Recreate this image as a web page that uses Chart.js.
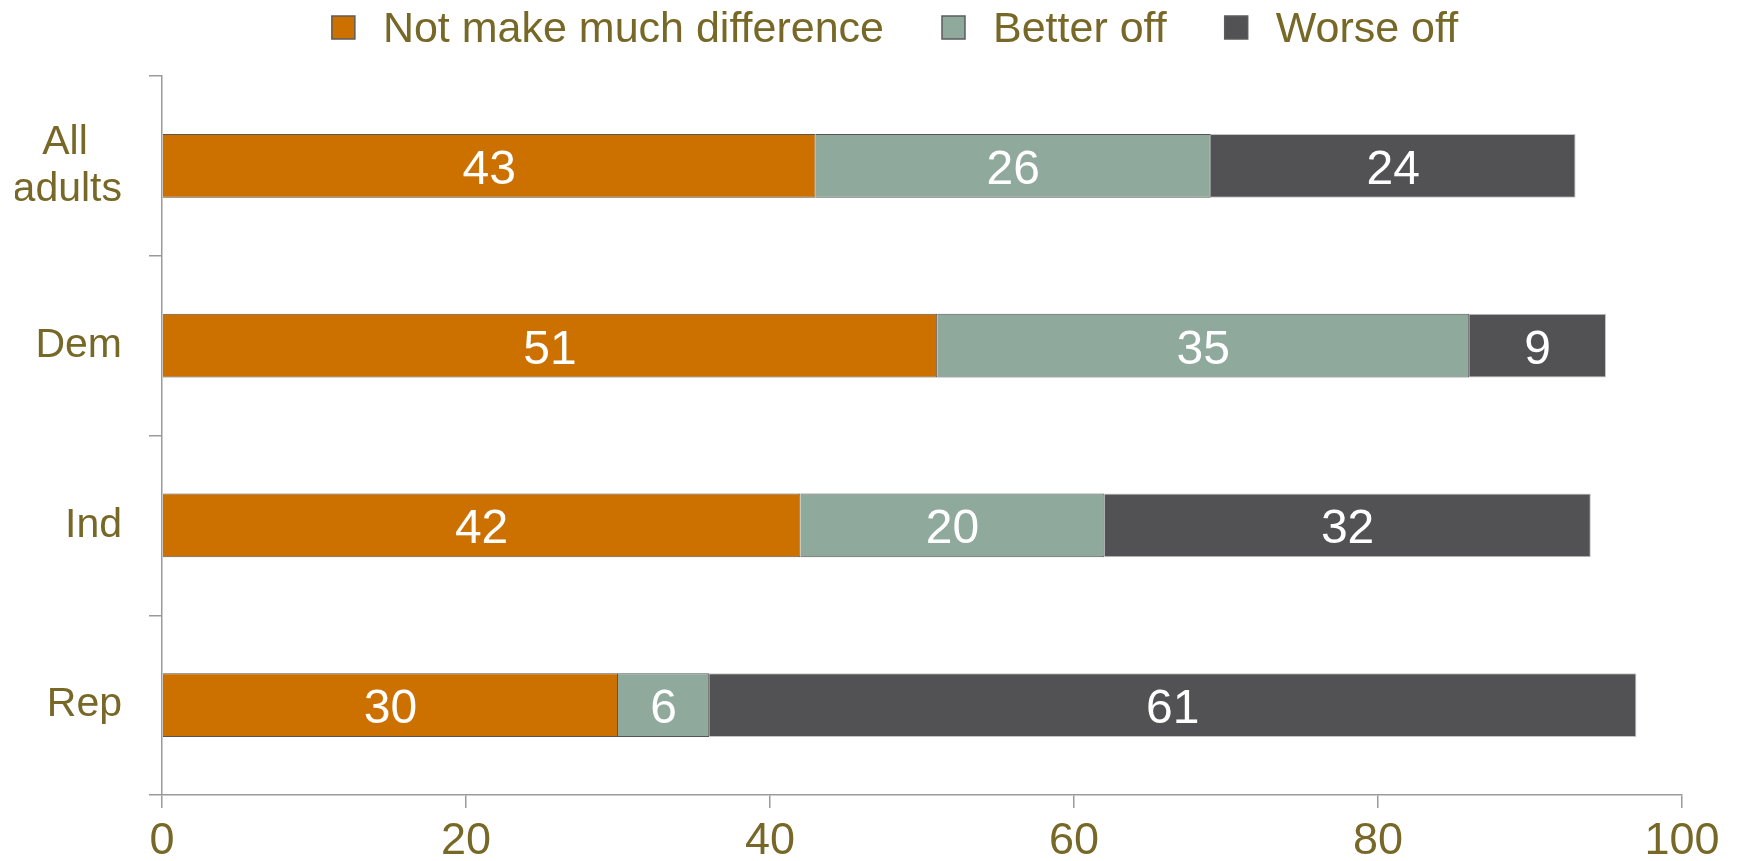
<html>
  <head>
    <meta charset="UTF-8">
    <title>Better off / Worse off</title>
    <script src="https://cdn.jsdelivr.net/npm/chart.js"></script>
    <style>
      html, body { margin: 0; padding: 0; background: #fff; }
      #wrap { width: 1738px; height: 861px; position: relative; }
    </style>
  </head>
  <body>
    <div id="wrap"><canvas id="chart"></canvas></div>
    <script>
    // Data
    const categories = [['All', 'adults'], 'Dem', 'Ind', 'Rep'];
    const seriesNames = ['Not make much difference', 'Better off', 'Worse off'];
    const notMuchDifference = [43, 51, 42, 30];
    const betterOff = [26, 35, 20, 6];
    const worseOff = [24, 9, 32, 61];
    const xTicks = [0, 20, 40, 60, 80, 100];

    const textColor = '#776828';
    const fontFamily = '"Liberation Sans", Arial, sans-serif';
    const axisColor = '#9a9a9a';
    const catFont = '41px ' + fontFamily;

    // pad the short line of a two-line label so the lines sit centred on each other
    const measureCtx = document.createElement('canvas').getContext('2d');
    function centreLines(label) {
      if (!Array.isArray(label)) return label;
      measureCtx.font = catFont;
      const widths = label.map(l => measureCtx.measureText(l).width);
      const widest = Math.max(...widths);
      const space = measureCtx.measureText(' ').width;
      return label.map((l, i) => l + ' '.repeat(Math.round((widest - widths[i]) / 2 / space)));
    }

    // values written in the middle of each segment
    const barValues = {
      id: 'barValues',
      afterDatasetsDraw(chart) {
        const ctx = chart.ctx;
        ctx.save();
        ctx.font = '48px ' + fontFamily;
        ctx.fillStyle = '#ffffff';
        ctx.textAlign = 'center';
        ctx.textBaseline = 'alphabetic';
        chart.data.datasets.forEach((ds, i) => {
          chart.getDatasetMeta(i).data.forEach((bar, j) => {
            const cx = (bar.x + bar.base) / 2;
            ctx.fillText(String(ds.data[j]), cx, bar.y + 18);
          });
        });
        ctx.restore();
      }
    };

    // legend across the top, Excel style spacing
    const topLegend = {
      id: 'topLegend',
      afterDraw(chart) {
        const ctx = chart.ctx;
        const box = 23, gapText = 28, gapItem = 58, boxTop = 16, baseline = 42;
        ctx.save();
        ctx.font = '43px ' + fontFamily;
        ctx.textBaseline = 'alphabetic';
        const items = chart.data.datasets.map(ds => ({
          label: ds.label, color: ds.backgroundColor, w: ctx.measureText(ds.label).width
        }));
        let total = 0;
        items.forEach((it, i) => { total += box + gapText + it.w + (i ? gapItem : 0); });
        let x = 895 - total / 2;
        items.forEach(it => {
          ctx.fillStyle = it.color;
          ctx.fillRect(x, boxTop, box, box);
          ctx.strokeStyle = '#5c5c5c';
          ctx.lineWidth = 1.5;
          ctx.strokeRect(x, boxTop, box, box);
          ctx.fillStyle = textColor;
          ctx.fillText(it.label, x + box + gapText, baseline);
          x += box + gapText + it.w + gapItem;
        });
        ctx.restore();
      }
    };

    const borderOf = ['#555555', '#555555', '#c4c4c4'];
    const colors = ['#cc7000', '#8faa9c', '#525254'];
    const values = [notMuchDifference, betterOff, worseOff];

    new Chart(document.getElementById('chart'), {
      type: 'bar',
      data: {
        labels: categories,
        datasets: seriesNames.map((name, i) => ({
          label: name,
          data: values[i],
          backgroundColor: colors[i],
          borderColor: borderOf[i],
          borderWidth: 1,
          barPercentage: 0.356,
          categoryPercentage: 1
        }))
      },
      options: {
        indexAxis: 'y',
        responsive: true,
        maintainAspectRatio: false,
        animation: false,
        layout: { padding: { top: 76, left: 15, right: 56, bottom: 0 } },
        plugins: {
          legend: { display: false },
          tooltip: { enabled: false }
        },
        scales: {
          x: {
            stacked: true,
            min: 0,
            max: 100,
            afterBuildTicks(axis) { axis.ticks = xTicks.map(v => ({ value: v })); },
            afterFit(axis) { axis.height = 66; },
            grid: { drawOnChartArea: false, tickLength: 13, color: axisColor, lineWidth: 1.5 },
            border: { color: axisColor, width: 1.5 },
            ticks: {
              padding: 11,
              color: textColor,
              font: { family: fontFamily, size: 45, lineHeight: 1 },
              maxRotation: 0
            }
          },
          y: {
            stacked: true,
            afterFit(axis) {
              axis.width = 147;
              axis.paddingTop = 0;
              axis.paddingBottom = 0;
            },
            grid: { drawOnChartArea: false, offset: true, tickLength: 13, color: axisColor, lineWidth: 1.5 },
            border: { color: axisColor, width: 1.5 },
            ticks: {
              padding: 27,
              color: textColor,
              font: { family: fontFamily, size: 41, lineHeight: 1.15 },
              callback(value) { return centreLines(this.getLabelForValue(value)); }
            }
          }
        }
      },
      plugins: [barValues, topLegend]
    });
    </script>
  </body>
</html>
